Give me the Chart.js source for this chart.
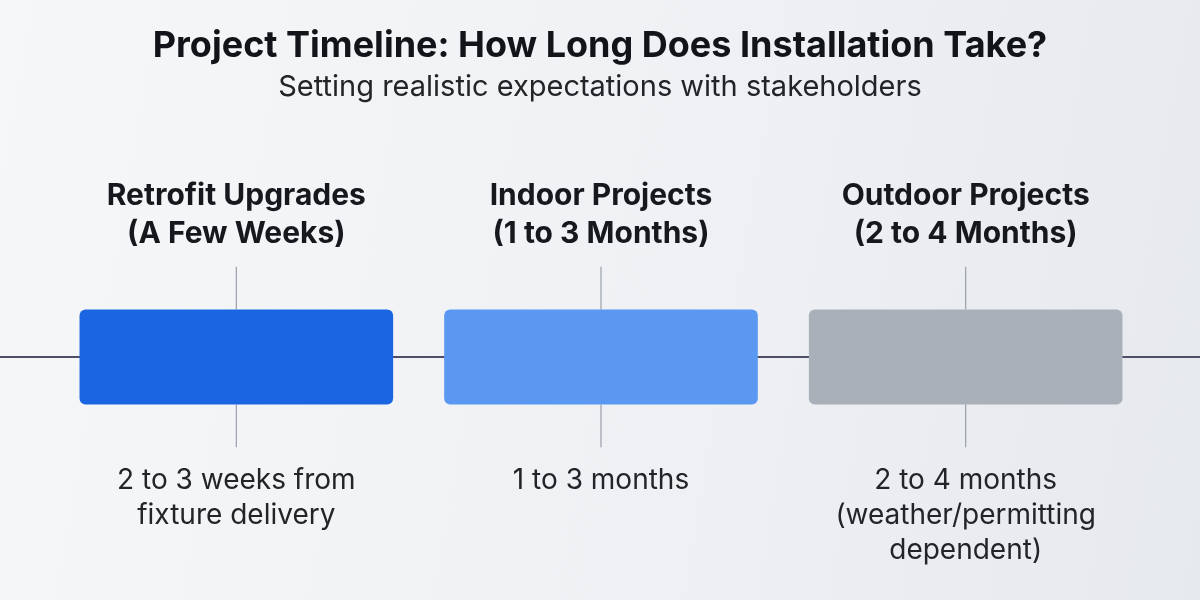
<!DOCTYPE html>
<html>
<head>
<meta charset="utf-8">
<script src="https://cdn.jsdelivr.net/npm/chart.js@4/dist/chart.umd.min.js"></script>
<style>
  html, body { margin: 0; padding: 0; }
  body { width: 1200px; height: 600px; background: linear-gradient(100deg, #f6f7f9 0%, #eef0f3 60%, #e6e9ed 100%); }
  #wrap { width: 1200px; height: 600px; position: relative; }
</style>
</head>
<body>
<div id="wrap"><canvas id="timeline"></canvas></div>
<script>
const chartTitle = "Project Timeline: How Long Does Installation Take?";
const chartSubtitle = "Setting realistic expectations with stakeholders";
const phases = ["Retrofit Upgrades", "Indoor Projects", "Outdoor Projects"];
const durations = ["(A Few Weeks)", "(1 to 3 Months)", "(2 to 4 Months)"];
const notes = [
  ["2 to 3 weeks from", "fixture delivery"],
  ["1 to 3 months"],
  ["2 to 4 months", "(weather/permitting", "dependent)"]
];
const boxRanges = [[-1, 1], [-1, 1], [-1, 1]];
const boxColors = ["#1a66e2", "#5a98f1", "#a9b0ba"];

const overlay = {
  id: "overlay",
  beforeDatasetsDraw(chart) {
    const ctx = chart.ctx;
    const y = chart.scales.y;
    const y0 = y.getPixelForValue(0);
    ctx.save();
    ctx.strokeStyle = "#4b5068";
    ctx.lineWidth = 2;
    ctx.beginPath();
    ctx.moveTo(0, y0);
    ctx.lineTo(chart.width, y0);
    ctx.stroke();
    ctx.strokeStyle = "#9aa0aa";
    ctx.lineWidth = 1.2;
    chart.getDatasetMeta(0).data.forEach(bar => {
      ctx.beginPath();
      ctx.moveTo(bar.x, y.getPixelForValue(1.9));
      ctx.lineTo(bar.x, y.getPixelForValue(1));
      ctx.moveTo(bar.x, y.getPixelForValue(-1));
      ctx.lineTo(bar.x, y.getPixelForValue(-1.9));
      ctx.stroke();
    });
    ctx.restore();
  },
  afterDraw(chart) {
    const ctx = chart.ctx;
    ctx.save();
    ctx.textAlign = "center";
    ctx.textBaseline = "middle";
    ctx.fillStyle = "#111418";
    ctx.font = "bold 36px Inter, 'Noto Sans', sans-serif";
    ctx.fillText(chartTitle, 600, 46);
    ctx.fillStyle = "#222528";
    ctx.font = "29px Inter, 'Noto Sans', sans-serif";
    ctx.fillText(chartSubtitle, 600, 87);
    chart.getDatasetMeta(0).data.forEach((bar, i) => {
      ctx.fillStyle = "#15181c";
      ctx.font = "bold 30px Inter, 'Noto Sans', sans-serif";
      ctx.fillText(phases[i], bar.x, 196);
      ctx.fillText(durations[i], bar.x, 234);
      ctx.fillStyle = "#222528";
      ctx.font = "28px Inter, 'Noto Sans', sans-serif";
      notes[i].forEach((line, k) => ctx.fillText(line, bar.x, 481 + k * 35));
    });
    ctx.restore();
  }
};

new Chart(document.getElementById("timeline"), {
  type: "bar",
  data: {
    labels: phases,
    datasets: [{
      data: boxRanges,
      backgroundColor: boxColors,
      borderRadius: 6,
      borderSkipped: false,
      barPercentage: 1,
      categoryPercentage: 0.86
    }]
  },
  options: {
    responsive: true,
    maintainAspectRatio: false,
    animation: false,
    layout: { padding: { left: 54, right: 52, top: 0, bottom: 0 } },
    plugins: { legend: { display: false }, tooltip: { enabled: false } },
    scales: {
      x: { display: false },
      y: { display: false, min: -5.12, max: 7.52 }
    }
  },
  plugins: [overlay]
});
</script>
</body>
</html>
